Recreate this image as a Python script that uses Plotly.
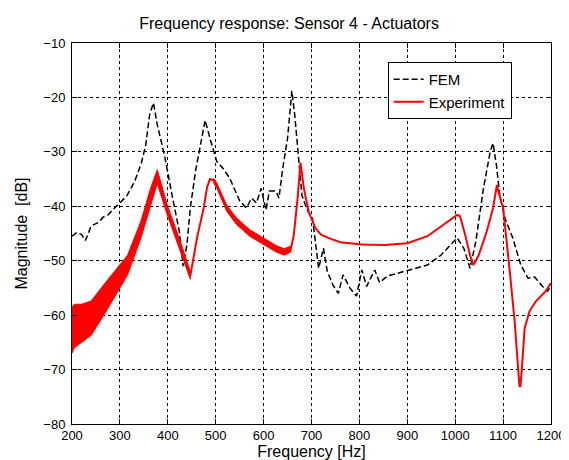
import plotly.graph_objects as go

# FEM (black dashed)
fem_freq = [200, 210, 220, 228, 240, 255, 265, 275, 290, 300, 315, 331, 345, 354, 362, 370, 378, 385, 393,
            409, 424, 432, 440, 447, 458, 467, 478, 488, 502, 515, 529, 550, 564, 575, 585, 595, 605,
            612, 626, 632, 640, 650, 659, 665, 673, 680, 690, 702, 715, 725, 733, 745, 756, 766, 780,
            794, 805, 815, 832, 842, 859, 880, 900, 942, 970, 1004, 1018, 1031, 1043, 1049, 1059, 1073,
            1079, 1086, 1093, 1104, 1120, 1137, 1152, 1166, 1182, 1193, 1200]
fem_mag = [-45.5, -44.8, -45.2, -46.3, -43.6, -43.0, -42.0, -41.6, -40.2, -39.4, -38.0, -35.4, -32.0,
           -28.7, -23.2, -21.0, -25.0, -27.5, -30.6, -38.0, -44.6, -51.0, -47.0, -40.3, -33.5, -29.3, -24.2,
           -27.5, -31.7, -33.0, -34.8, -39.0, -40.3, -38.5, -39.4, -36.7, -40.7, -37.2, -37.2, -38.5,
           -33.0, -27.5, -18.8, -23.2, -32.0, -38.0, -40.5, -42.2, -51.4, -47.7, -52.0, -54.5, -56.0,
           -52.6, -55.0, -56.5, -51.7, -54.7, -51.7, -54.0, -52.8, -52.3, -51.7, -50.8, -49.0, -45.8,
           -47.7, -51.4, -46.5, -42.8, -36.7, -30.0, -28.4, -32.4, -38.0, -42.2, -45.8, -50.8, -53.2,
           -53.0, -54.7, -55.6, -54.6]

# Experiment (red)
exp_freq = [200, 220, 240, 270, 300, 316, 344, 364, 378, 399, 426, 447, 461, 475, 482, 488, 498, 502,
            523, 543, 571, 599, 626, 643, 657, 663, 671, 677, 684, 694, 708, 720, 735, 760, 805, 853,
            900, 942, 976, 1004, 1010, 1021, 1031, 1038, 1049, 1066, 1079, 1087, 1090, 1100, 1114,
            1124, 1134, 1136, 1139, 1145, 1155, 1168, 1189, 1200]
exp_mag = [-62.5, -61.5, -60.5, -56.8, -53.0, -50.8, -44.2, -38.2, -34.3, -40.7, -47.3, -52.8, -45.8,
           -40.3, -36.5, -35.0, -35.3, -36.1, -40.3, -42.7, -44.9, -46.4, -47.8, -48.4, -47.8, -45.3,
           -38.5, -32.0, -36.7, -41.0, -44.0, -45.2, -45.8, -46.6, -47.0, -47.1, -46.8, -45.5, -43.4,
           -41.6, -41.8, -45.3, -49.0, -50.8, -49.0, -44.6, -40.3, -36.1, -37.2, -40.3, -52.0, -61.0,
           -72.9, -73.2, -70.0, -62.4, -59.3, -57.5, -55.6, -54.1]

# Experiment noise envelope (low-frequency region)
band_freq = [200, 205, 220, 240, 270, 300, 316, 344, 364, 378, 399, 426, 447]
band_upper = [-58.5, -58.0, -58.0, -57.4, -54.0, -50.8, -49.0, -42.7, -36.7, -33.3, -39.8, -46.4, -52.0]
band_lower = [-67.0, -66.0, -65.0, -63.7, -59.5, -55.0, -52.6, -45.8, -39.8, -35.8, -41.6, -48.2, -53.4]

# Experiment noise envelope (mid region, thinner)
band2_freq = [495, 502, 523, 543, 571, 599, 626, 643, 657]
band2_upper = [-34.8, -35.7, -39.8, -42.1, -44.3, -45.8, -47.2, -47.8, -47.3]
band2_lower = [-35.6, -36.6, -40.9, -43.3, -45.5, -47.0, -48.4, -49.0, -48.4]

x_ticks = [200, 300, 400, 500, 600, 700, 800, 900, 1000, 1100, 1200]
y_ticks = [-80, -70, -60, -50, -40, -30, -20, -10]

FONT = "Liberation Sans, Arial, sans-serif"

fig = go.Figure()
fig.add_trace(go.Scatter(x=fem_freq, y=fem_mag, mode="lines", name="FEM",
                         line=dict(color="black", width=1.5, dash="6px,3px")))
for bf, bu, bl in [(band_freq, band_upper, band_lower), (band2_freq, band2_upper, band2_lower)]:
    fig.add_trace(go.Scatter(x=bf + bf[::-1], y=bu + bl[::-1],
                             mode="lines", fill="toself", fillcolor="red",
                             line=dict(color="red", width=1), showlegend=False, hoverinfo="skip"))
fig.add_trace(go.Scatter(x=exp_freq, y=exp_mag, mode="lines", name="Experiment",
                         line=dict(color="red", width=2)))

axis_common = dict(showline=True, linecolor="black", linewidth=1, mirror="ticks",
                   ticks="inside", ticklen=5, tickcolor="black",
                   showgrid=True, gridcolor="black", gridwidth=1, griddash="3px,3px",
                   zeroline=False, tickfont=dict(family=FONT, size=13, color="black"))

fig.update_xaxes(range=[200, 1200], tickvals=x_ticks, ticklabelstandoff=-1,
                 title=dict(text="Frequency [Hz]", font=dict(family=FONT, size=16, color="black"), standoff=0),
                 **axis_common)
fig.update_yaxes(range=[-80, -10], tickvals=y_ticks, ticklabelstandoff=3,
                 title=dict(text="Magnitude  [dB]", font=dict(family=FONT, size=16, color="black"), standoff=11),
                 **axis_common)

fig.update_layout(
    width=569, height=460,
    margin=dict(l=64, r=20, t=35, b=44),
    paper_bgcolor="white", plot_bgcolor="white",
    title=dict(text="Frequency response: Sensor 4 - Actuators", x=0.494, xanchor="center",
               y=0.967, yanchor="middle", font=dict(family=FONT, size=16, color="black")),
    legend=dict(x=0.659, y=0.95, xanchor="left", yanchor="top", bgcolor="white",
                bordercolor="black", borderwidth=1,
                font=dict(family=FONT, size=15, color="black"), tracegroupgap=0),
    showlegend=True,
)

fig.write_html("out.html")
